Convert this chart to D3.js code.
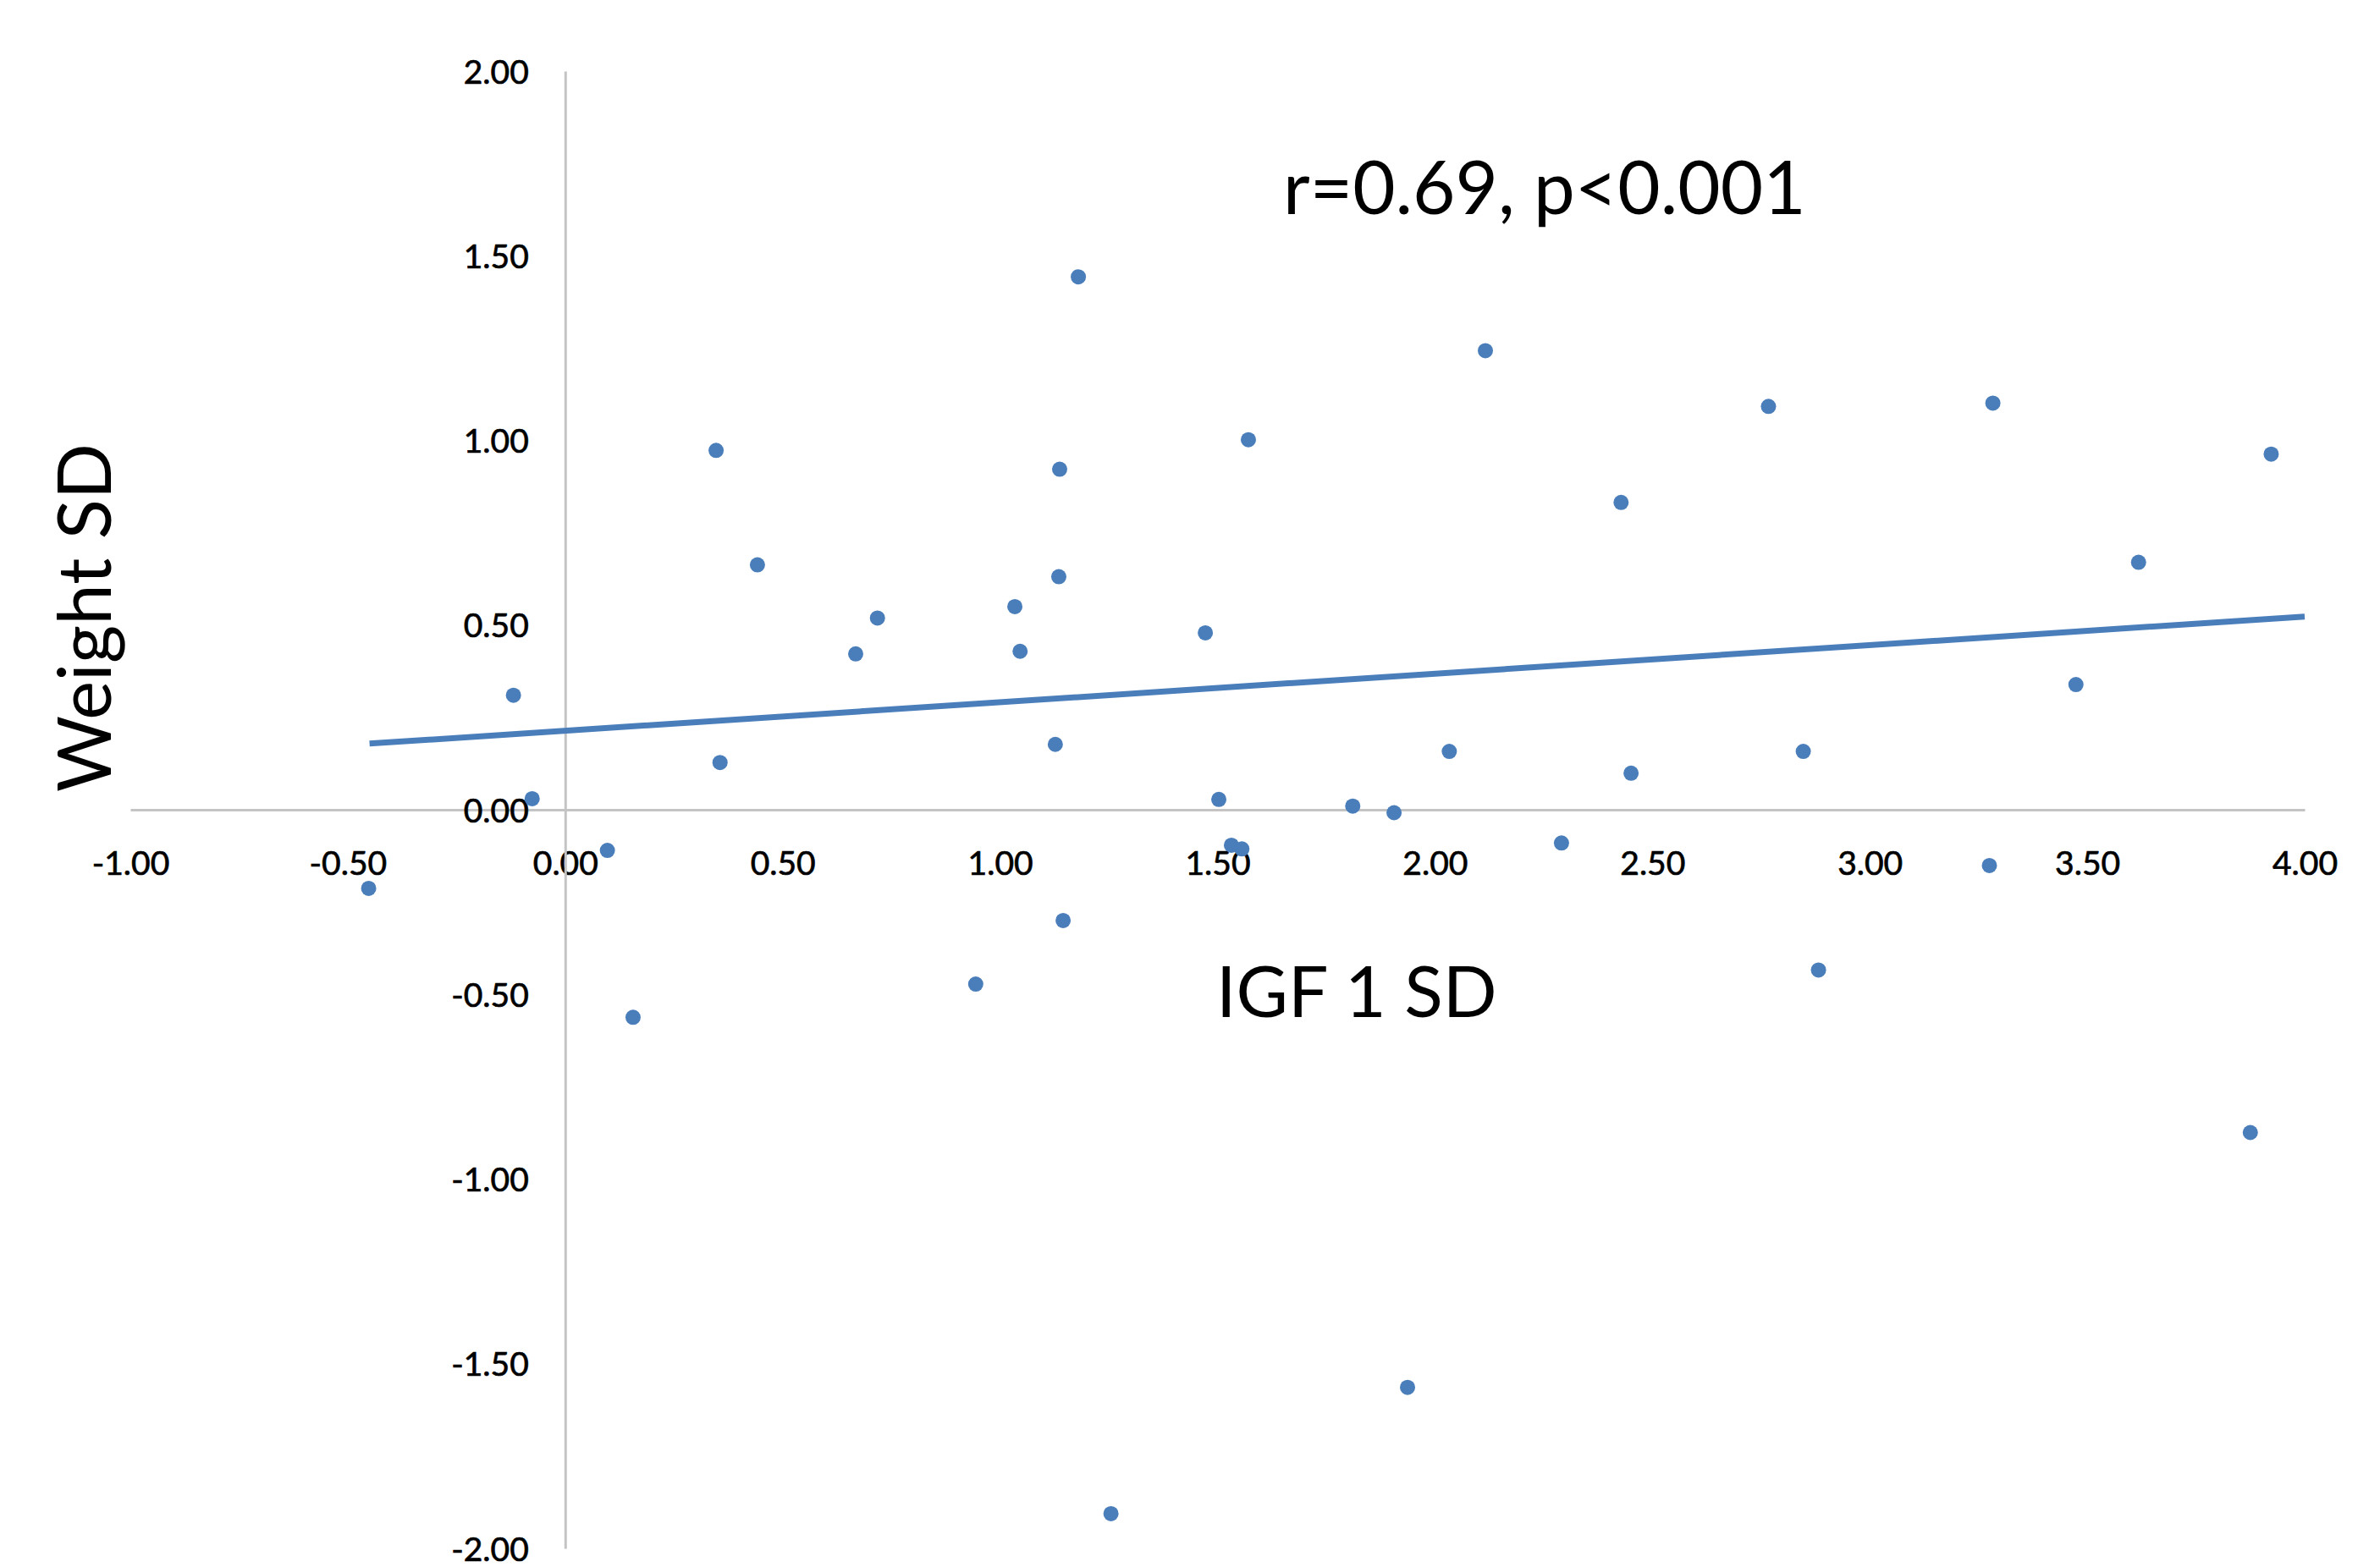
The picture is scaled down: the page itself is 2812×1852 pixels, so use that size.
<!DOCTYPE html>
<html>
<head>
<meta charset="utf-8">
<script src="https://cdn.jsdelivr.net/npm/d3@7"></script>
<style>
  html, body { margin: 0; padding: 0; background: #fff; }
  svg { display: block; }
</style>
</head>
<body>
<svg id="chart" width="2812" height="1852"></svg>
<script>
// ---- data ----
const igfSD = [-0.452, -0.119, -0.076, 0.097, 0.156, 0.347, 0.356, 0.442, 0.668, 0.718,
  0.944, 1.034, 1.046, 1.127, 1.137, 1.135, 1.145, 1.180, 1.255, 1.472,
  1.503, 1.532, 1.556, 1.571, 1.811, 1.906, 1.937, 2.033, 2.116, 2.291,
  2.428, 2.451, 2.767, 2.847, 2.882, 3.275, 3.283, 3.474, 3.618, 3.875, 3.923];
const weightSD = [-0.213, 0.310, 0.030, -0.110, -0.562, 0.973, 0.128, 0.663, 0.422, 0.519,
  -0.472, 0.550, 0.429, 0.177, 0.922, 0.631, -0.300, 1.443, -1.906, 0.479,
  0.028, -0.096, -0.106, 1.002, 0.010, -0.008, -1.564, 0.158, 1.243, -0.090,
  0.832, 0.099, 1.092, 0.158, -0.434, -0.151, 1.101, 0.339, 0.670, -0.874, 0.963];
const trendX = [-0.45, 4.0];
const trendY = [0.179, 0.523];
const xTicks = [-1.0, -0.5, 0.0, 0.5, 1.0, 1.5, 2.0, 2.5, 3.0, 3.5, 4.0];
const yTicks = [-2.0, -1.5, -1.0, -0.5, 0.0, 0.5, 1.0, 1.5, 2.0];
const xTitle = "IGF 1 SD";
const yTitle = "Weight SD";
const annotation = "r=0.69, p<0.001";

// ---- drawing ----
const svg = d3.select("#chart");
const x = d3.scaleLinear().domain([-1, 4]).range([154, 2723]);
const y = d3.scaleLinear().domain([-2, 2]).range([1830, 84]);

const axisColor = "#c4c4c4";
const blue = "#4a7ebb";
const font = "Lato, 'Open Sans', sans-serif";
const fmt = d => d.toFixed(2);

// x axis (crosses at y = 0)
const gx = svg.append("g")
  .attr("transform", `translate(0,${y(0)})`)
  .call(d3.axisBottom(x).tickValues(xTicks).tickFormat(fmt).tickSize(0).tickSizeOuter(0));
gx.select(".domain").attr("stroke", axisColor).attr("stroke-width", 3);
gx.selectAll("text")
  .attr("y", 77).attr("dy", 0)
  .attr("font-family", font).attr("font-size", 39).attr("fill", "#000")
  .attr("stroke", "#000").attr("stroke-width", 0.7);

// y axis (crosses at x = 0)
const gy = svg.append("g")
  .attr("transform", `translate(${x(0)},0)`)
  .call(d3.axisLeft(y).tickValues(yTicks).tickFormat(fmt).tickSize(0).tickSizeOuter(0));
gy.select(".domain").attr("stroke", axisColor).attr("stroke-width", 3);
gy.selectAll("text")
  .attr("x", -43).attr("dy", "0.36em")
  .attr("font-family", font).attr("font-size", 39).attr("fill", "#000")
  .attr("stroke", "#000").attr("stroke-width", 0.7);
gx.selectAll(".tick line").remove();
gy.selectAll(".tick line").remove();

// trend line
svg.append("path")
  .datum(trendX.map((d, i) => [d, trendY[i]]))
  .attr("fill", "none")
  .attr("stroke", blue)
  .attr("stroke-width", 7)
  .attr("d", d3.line().x(d => x(d[0])).y(d => y(d[1])));

// points
svg.append("g").selectAll("circle")
  .data(igfSD.map((d, i) => [d, weightSD[i]]))
  .join("circle")
  .attr("cx", d => x(d[0]))
  .attr("cy", d => y(d[1]))
  .attr("r", 9)
  .attr("fill", blue);

// titles
svg.append("text")
  .attr("x", 1437).attr("y", 1202)
  .attr("font-family", font).attr("font-size", 84).attr("fill", "#000")
  .text(xTitle);

svg.append("text")
  .attr("transform", "translate(131,730) rotate(-90)")
  .attr("text-anchor", "middle")
  .attr("font-family", font).attr("font-size", 87).attr("fill", "#000")
  .text(yTitle);

svg.append("text")
  .attr("x", 1516).attr("y", 253)
  .attr("font-family", font).attr("font-size", 87).attr("fill", "#000")
  .text(annotation);
</script>
</body>
</html>
